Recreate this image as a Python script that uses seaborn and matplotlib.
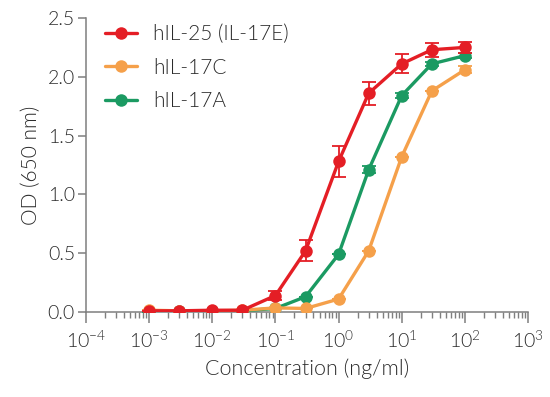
import numpy as np
import pandas as pd
import matplotlib
matplotlib.use("Agg")
import matplotlib.pyplot as plt
import matplotlib.ticker as mticker
from matplotlib.lines import Line2D
import seaborn as sns

conc = [0.001, 0.003, 0.01, 0.03, 0.1, 0.3, 1, 3, 10, 30, 100]
series_names = ["hIL-25 (IL-17E)", "hIL-17C", "hIL-17A"]
il25 = [0.01, 0.01, 0.015, 0.015, 0.14, 0.52, 1.28, 1.86, 2.11, 2.23, 2.25]
il25_err = [0.0, 0.0, 0.0, 0.0, 0.04, 0.09, 0.13, 0.10, 0.08, 0.06, 0.05]
il17c = [0.015, 0.01, 0.01, 0.015, 0.035, 0.03, 0.11, 0.52, 1.32, 1.88, 2.06]
il17c_err = [0.0, 0.0, 0.0, 0.0, 0.0, 0.0, 0.0, 0.0, 0.0, 0.0, 0.03]
il17a = [0.0, 0.005, 0.01, 0.01, 0.03, 0.13, 0.49, 1.21, 1.84, 2.11, 2.18]
il17a_err = [0.0, 0.0, 0.0, 0.0, 0.0, 0.0, 0.0, 0.03, 0.02, 0.02, 0.02]
colors = {"hIL-25 (IL-17E)": "#e41e25", "hIL-17C": "#f5a04a", "hIL-17A": "#1b9a62"}

xticks = [1e-4, 1e-3, 1e-2, 1e-1, 1, 10, 100, 1000]
xtick_labels = [r"$10^{-4}$", r"$10^{-3}$", r"$10^{-2}$", r"$10^{-1}$",
                r"$10^{0}$", r"$10^{1}$", r"$10^{2}$", r"$10^{3}$"]
yticks = [0.0, 0.5, 1.0, 1.5, 2.0, 2.5]

sns.set_style("ticks")
plt.rcParams["font.family"] = ["Lato", "DejaVu Sans"]
plt.rcParams["font.weight"] = 300
plt.rcParams["axes.labelweight"] = 300
plt.rcParams["mathtext.fontset"] = "custom"
plt.rcParams["mathtext.rm"] = "Lato:weight=300"
plt.rcParams["mathtext.it"] = "Lato:weight=300"
plt.rcParams["mathtext.default"] = "rm"

text_color = "#2b2b2b"
axis_color = "#7f7f7f"

df = pd.DataFrame({
    "conc": conc * 3,
    "od": il25 + il17c + il17a,
    "err": il25_err + il17c_err + il17a_err,
    "series": [series_names[0]] * len(conc) + [series_names[1]] * len(conc) + [series_names[2]] * len(conc),
})

fig = plt.figure(figsize=(5.5, 3.97), dpi=100)
ax = fig.add_axes([86 / 550, 1 - 312 / 397, (528 - 86) / 550, (312 - 18) / 397])

zorders = {"hIL-17A": 3, "hIL-17C": 4, "hIL-25 (IL-17E)": 5}
for name in ["hIL-17A", "hIL-17C", "hIL-25 (IL-17E)"]:
    sub = df[df["series"] == name]
    ax.errorbar(sub["conc"], sub["od"], yerr=sub["err"], fmt="none",
                ecolor=colors[name], elinewidth=1.3, capsize=5, capthick=1.3,
                zorder=zorders[name])
    sns.lineplot(data=sub, x="conc", y="od", ax=ax, color=colors[name],
                 marker="o", markersize=9, markeredgewidth=0, linewidth=2.4,
                 zorder=zorders[name] + 0.5, legend=False)

ax.set_xscale("log")
ax.set_xlim(1e-4, 1e3)
ax.set_ylim(0, 2.5)
ax.set_xticks(xticks)
ax.set_xticklabels(xtick_labels)
ax.xaxis.set_minor_locator(mticker.LogLocator(base=10, subs=np.arange(2, 10), numticks=20))
ax.xaxis.set_minor_formatter(mticker.NullFormatter())
ax.set_yticks(yticks)
ax.set_yticklabels([f"{v:.1f}" for v in yticks])

ax.set_xlabel("Concentration (ng/ml)", fontsize=15.5, color=text_color, labelpad=5)
ax.set_ylabel("OD (650 nm)", fontsize=15, color=text_color, labelpad=5)

for s in ["top", "right"]:
    ax.spines[s].set_visible(False)
for s in ["left", "bottom"]:
    ax.spines[s].set_color(axis_color)
    ax.spines[s].set_linewidth(1.1)

ax.tick_params(axis="x", which="major", length=8, width=1.1, color=axis_color,
               labelsize=14, labelcolor=text_color, pad=5)
ax.tick_params(axis="x", which="minor", length=4, width=1.0, color=axis_color)
ax.tick_params(axis="y", which="major", length=6, width=1.1, color=axis_color,
               labelsize=14, labelcolor=text_color, pad=2)

handles = []
for name in series_names:
    handles.append(Line2D([0], [0], color=colors[name], marker="o", markersize=9,
                          markeredgewidth=0, linewidth=2.4))
leg = ax.legend(handles, series_names, loc="upper left", bbox_to_anchor=(0.043, 0.98),
                borderaxespad=0, borderpad=0,
                frameon=False, fontsize=15, handlelength=1.55, handletextpad=0.75,
                labelspacing=0.66)
for t in leg.get_texts():
    t.set_color(text_color)

fig.savefig("out.png", dpi=100)
